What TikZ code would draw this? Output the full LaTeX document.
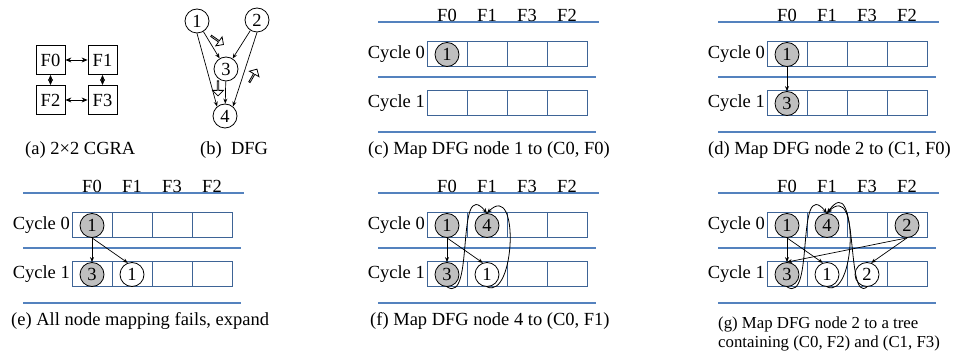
\documentclass[tikz,border=0pt]{standalone}
\usepackage{fontspec}
\setmainfont{Liberation Serif}
\usetikzlibrary{arrows.meta, shapes.arrows}

\definecolor{gridblue}{RGB}{62,100,150}
\definecolor{lineblue}{RGB}{84,130,190}
\definecolor{mapped}{RGB}{191,191,191}

\tikzset{
  txt/.style={font=\fontsize{18.5}{19.5}\selectfont, inner sep=0pt},
  small/.style={font=\fontsize{16.8}{19}\selectfont, inner sep=0pt},
  fu/.style={txt, draw, line width=0.8pt, minimum size=29pt},
  op/.style={txt, circle, draw, line width=0.8pt, minimum size=24pt, fill=white},
  done/.style={fill=mapped},
  cell/.style={draw=gridblue, line width=1pt, minimum width=40pt, minimum height=25pt, inner sep=0pt},
  rowline/.style={lineblue, line width=1.3pt},
  dep/.style={-{Stealth[length=5pt,width=4pt]}, line width=0.7pt},
  link/.style={{Stealth[length=6pt,width=5pt]}-{Stealth[length=6pt,width=5pt]}, line width=0.8pt},
  route/.style={-{Stealth[length=5pt,width=4pt]}, line width=0.8pt},
  hint/.style={single arrow, draw, line width=0.8pt, minimum height=15pt, minimum width=11pt,
    single arrow head extend=2.5pt, inner sep=0pt, fill=white},
}

% one mapping table: header, two rows of FUs, separators
\newcommand{\mapframe}[1]{%
  \draw[rowline] (-49,-20) -- (172,-20);
  \foreach \f [count=\i from 0] in {F0,F1,F3,F2}
    \node[txt] (#1-h\i) at (20+40*\i,-27) {\f};
  \foreach \r/\y in {0/12.5,1/61.5}
    \foreach \c in {0,...,3}
      \node[cell] (#1-\r\c) at (20+40*\c,\y) {};
  \node[txt, anchor=east] (#1-cy0) at (-2,12.5) {Cycle 0};
  \node[txt, anchor=east] (#1-cy1) at (-2,61.5) {Cycle 1};
  \draw[rowline] (-49,35) -- (169,35);
  \draw[rowline] (-49,90) -- (169,90);
}

\begin{document}
\begin{tikzpicture}[x=1pt, y=-1pt]
  \useasboundingbox (0,0) rectangle (953,355);

  % (a) the 2x2 array
  \node[fu] (fa0) at (50.5,60) {F0};
  \node[fu] (fa1) at (102.5,60) {F1};
  \node[fu] (fa2) at (50.5,100) {F2};
  \node[fu] (fa3) at (102.5,100) {F3};
  \draw[link] (fa0) -- (fa1);
  \draw[link] (fa2) -- (fa3);
  \draw[link] (fa0) -- (fa2);
  \draw[link] (fa1) -- (fa3);
  \node[txt, anchor=west] (capa) at (25,150) {(a) 2×2 CGRA};

  % (b) the data flow graph
  \node[op] (n1) at (197,21) {1};
  \node[op] (n2) at (257,20) {2};
  \node[op] (n3) at (226,69) {3};
  \node[op] (n4) at (225,116) {4};
  \draw[dep] (n1) -- (n3);
  \draw[dep] (n2) -- (n3);
  \draw[dep] (n3) -- (n4);
  \draw[dep] (n1.south) -- (n4.130);
  \draw[dep] (n2.south) -- (n4.50);
  \node[hint, rotate=-35] (h1) at (217,40) {};
  \node[hint, rotate=-90] (h2) at (218,88) {};
  \node[hint, rotate=60] (h3) at (253,76) {};
  \node[txt, anchor=west] (capb) at (200,150) {(b)\ \ DFG};

  % (c) node 1 placed
  \begin{scope}[shift={(427,42)}]
    \mapframe{c}
    \node[op, done] (c-1) at (c-00) {1};
    \node[txt, anchor=west] (capc) at (-59,108) {(c) Map DFG node 1 to (C0, F0)};
  \end{scope}

  % (d) node 3 below it
  \begin{scope}[shift={(767,42)}]
    \mapframe{d}
    \node[op, done] (d-1) at (d-00) {1};
    \node[op, done] (d-3) at (d-10) {3};
    \draw[dep] (d-1) -- (d-3);
    \node[txt, anchor=west] (capd) at (-59,108) {(d) Map DFG node 2 to (C1, F0)};
  \end{scope}

  % (e) expand: route 1 one cycle on
  \begin{scope}[shift={(72,213)}]
    \mapframe{e}
    \node[op, done] (e-1) at (e-00) {1};
    \node[op, done] (e-3) at (e-10) {3};
    \node[op] (e-1b) at (e-11) {1};
    \draw[dep] (e-1.south) -- (e-3.north);
    \draw[dep] (e-1.south) -- (e-1b.110);
    \node[txt, anchor=west] (cape) at (-61,108) {(e) All node mapping fails, expand};
  \end{scope}

  % (f) node 4 fed back to cycle 0
  \begin{scope}[shift={(427,213)}]
    \mapframe{f}
    \node[op, done] (f-1) at (f-00) {1};
    \node[op, done] (f-4) at (f-01) {4};
    \node[op, done] (f-3) at (f-10) {3};
    \node[op] (f-1b) at (f-11) {1};
    \draw[dep] (f-1.south) -- (f-3.north);
    \draw[dep] (f-1.south) -- (f-1b.110);
    \draw[route] (f-3.south) .. controls +(28,18) and +(-32,-38) .. (f-4.north);
    \draw[route] (f-1b.south) .. controls +(28,13) and +(33,-33) .. (f-4.north);
    \node[txt, anchor=west] (capf) at (-57,108) {(f) Map DFG node 4 to (C0, F1)};
  \end{scope}

  % (g) node 2 as a tree over two cycles
  \begin{scope}[shift={(767,213)}]
    \mapframe{g}
    \node[op, done] (g-1) at (g-00) {1};
    \node[op, done] (g-4) at (g-01) {4};
    \node[op, done] (g-2) at (g-03) {2};
    \node[op, done] (g-3) at (g-10) {3};
    \node[op] (g-1b) at (g-11) {1};
    \node[op] (g-2b) at (g-12) {2};
    \draw[dep] (g-1.south) -- (g-3.north);
    \draw[dep] (g-1.south) -- (g-1b.110);
    \draw[dep] (g-2.south) -- (g-3.north);
    \draw[dep] (g-2.south) -- (g-2b.70);
    \draw[route] (g-3.south) .. controls +(28,18) and +(-32,-38) .. (g-4.north);
    \draw[route] (g-1b.south) .. controls +(28,13) and +(33,-33) .. (g-4.north);
    \draw[route] (g-2b.south) .. controls +(-22,18) and +(33,-45) .. (g-4.north);
    \node[small, anchor=west, align=left] (capg) at (-49,121)
      {(g) Map DFG node 2 to a tree\\containing (C0, F2) and (C1, F3)};
  \end{scope}
\end{tikzpicture}
\end{document}
